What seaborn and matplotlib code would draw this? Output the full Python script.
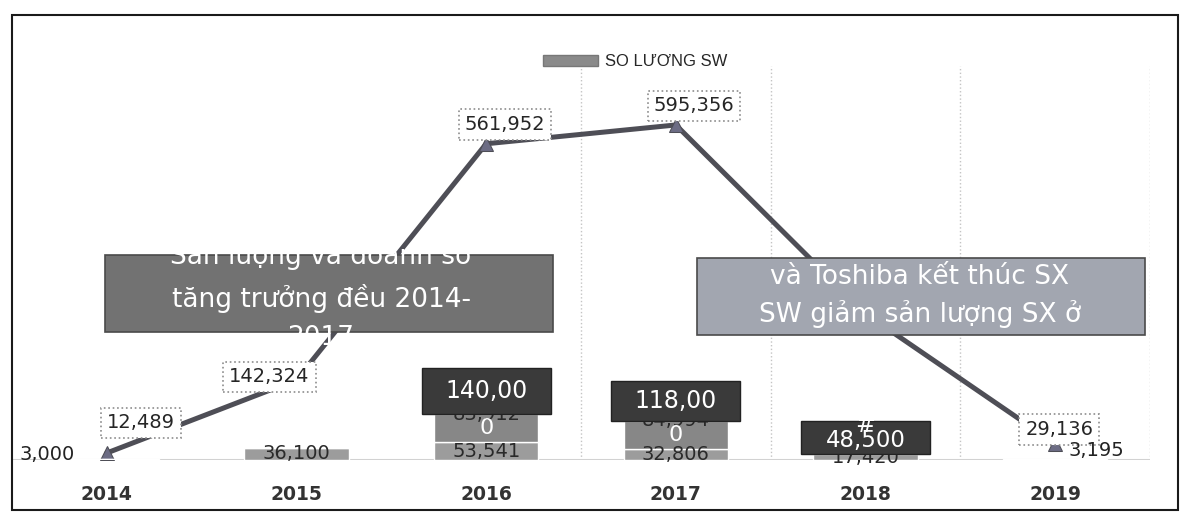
import numpy as np
import pandas as pd
import matplotlib.pyplot as plt
import seaborn as sns
from matplotlib.patches import Rectangle, Patch

# data
years = ['2014', '2015', '2016', '2017', '2018', '2019']
so_luong = [12489, 142324, 561952, 595356, 260000, 29136]
so_luong_labels = ['12,489', '142,324', '561,952', '595,356', '', '29,136']

sw_a = [3000, 36100, 53541, 32806, 17420, 3195]
sw_b = [0, 0, 83912, 84994, 0, 0]
sw_c = [0, 0, 140000, 118000, 100000, 0]      # 2018 shows only "#", height estimated
sw_c_labels = ['', '', '140,00', '118,00', '#', '']
sw_w_labels = ['', '', '0', '0', '48,500', '']  # white labels spilling out of the dark boxes

legend_label = 'SO LƯƠNG SW'
note_left = 'Sản lượng và doanh số\ntăng trưởng đều 2014-\n2017'
note_right = 'và Toshiba kết thúc SX\nSW giảm sản lượng SX ở'

df = pd.DataFrame({'year': years, 'so_luong': so_luong})

sns.set_theme(style='white')
plt.rcParams['font.family'] = ['DejaVu Sans']

W, H = 1188, 513
PX = 0.72  # points per pixel at dpi 100
fig = plt.figure(figsize=(W / 100, H / 100), dpi=100)
ax = fig.add_axes([12 / W, 53 / H, 1138 / W, 415 / H])
ax2 = ax.twinx()

x = np.arange(len(years))

# line (primary axis)
sns.lineplot(data=df, x=x, y='so_luong', ax=ax, color='#4e4e56', linewidth=3.6,
             marker='^', markersize=10, markerfacecolor='#6c6c84',
             markeredgecolor='#4e4e56', zorder=3)

# label offsets in pixels
line_offs = [(34, -30), (-27, -3), (19, -19), (18, -19), (0, 0), (4, -14)]
for i, (v, lab) in enumerate(zip(so_luong, so_luong_labels)):
    if not lab:
        continue
    dx, dy = line_offs[i]
    ax.annotate(lab, (x[i], v), xytext=(dx * PX, -dy * PX),
                textcoords='offset points', ha='center', va='center',
                fontsize=14, color='#262626', zorder=4,
                bbox=dict(boxstyle='square,pad=0.3', fc='white', ec='#8c8c8c',
                          ls=':', lw=1.2))

# stacked bars (secondary axis)
a = np.array(sw_a, dtype=float)
b = np.array(sw_b, dtype=float)
c = np.array(sw_c, dtype=float)
ax2.bar(x, a, width=0.55, color='#9c9c9c', zorder=2)
ax2.bar(x, b, width=0.55, bottom=a, color='#878787', zorder=2)
ax2.bar(x, np.where(c > 0, c, np.nan), width=0.68, bottom=a + b,
        color='#3a3a3a', edgecolor='#222222', lw=1, zorder=4)

end_offs = {0: (-60, -5), 5: (41, -10)}
dark_dy = [0, 0, 0, 0, -13, 0]
white_dy = [0, 0, 14, 14, -14, 0]
for i in range(len(years)):
    if i in end_offs:
        dx, dy = end_offs[i]
        ax2.annotate(f'{int(a[i]):,}', (x[i], 0), xytext=(dx * PX, -dy * PX),
                     textcoords='offset points', ha='center', va='center',
                     fontsize=14, color='#222222', zorder=3)
        continue
    ax2.annotate(f'{int(a[i]):,}', (x[i], a[i] / 2), ha='center', va='center',
                 fontsize=14, color='#2a2a2a', zorder=3)
    if b[i] > 0:
        ax2.annotate(f'{int(b[i]):,}', (x[i], a[i] + b[i]), ha='center',
                     va='center', fontsize=14, color='#2a2a2a', zorder=3)
    if sw_c_labels[i]:
        base = a[i] + b[i]
        ax2.annotate(sw_c_labels[i], (x[i], base + c[i] / 2),
                     xytext=(0, -dark_dy[i] * PX), textcoords='offset points',
                     ha='center', va='center', fontsize=17, color='white',
                     zorder=5)
        ax2.annotate(sw_w_labels[i], (x[i], base),
                     xytext=(0, -white_dy[i] * PX), textcoords='offset points',
                     ha='center', va='center',
                     fontsize=16.5 if i == 4 else 16, color='white', zorder=6)

ax.set_xlim(-0.5, 5.5)
ax.set_ylim(0, 415 * 1777)
ax2.set_ylim(0, 415 * 3000)

ax.set_xticks(x)
ax.set_xticklabels(years, fontsize=13.5, fontweight='bold', color='#333333')
ax.tick_params(axis='x', length=0, pad=18)
ax.set_yticks([])
ax2.set_yticks([])
ax.set_xlabel('')
ax.set_ylabel('')
for s in list(ax.spines.values()) + list(ax2.spines.values()):
    s.set_visible(False)

ax.axhline(0, color='#d2d2d2', lw=1.5, zorder=1)
for xv in [2.5, 3.5, 4.5, 5.5]:
    ax.axvline(xv, ymin=0, ymax=0.95, color='#c4c4c4', lw=1, ls=':', zorder=0)

# legend
fig.legend(handles=[Patch(facecolor='#8a8a8a', edgecolor='#777777')],
           labels=[legend_label], loc='center',
           bbox_to_anchor=(635 / W, 1 - 62 / H), frameon=False,
           handlelength=3.3, handleheight=0.6, handletextpad=0.4,
           prop={'family': ['Liberation Sans', 'DejaVu Sans'], 'size': 12})

# annotation boxes
fig.add_artist(Rectangle((105 / W, 1 - 332 / H), 448 / W, 77 / H,
                         transform=fig.transFigure, fc='#727272', ec='#4a4a4a',
                         lw=1.2, zorder=5))
fig.text(321 / W, 1 - 296 / H, note_left, ha='center', va='center',
         fontsize=19, color='white', linespacing=1.6, zorder=6)

fig.add_artist(Rectangle((697 / W, 1 - 335 / H), 448 / W, 77 / H,
                         transform=fig.transFigure, fc='#a2a6b0', ec='#4a4a4a',
                         lw=1.2, zorder=5))
fig.text(920 / W, 1 - 296 / H, note_right, ha='center', va='center',
         fontsize=19, color='white', linespacing=1.45, zorder=6)

# outer frame
fig.add_artist(Rectangle((12 / W, 3 / H), 1166 / W, 495 / H,
                         transform=fig.transFigure, fill=False, ec='#1a1a1a',
                         lw=1.5, zorder=8))

fig.savefig('out.png', dpi=100)
